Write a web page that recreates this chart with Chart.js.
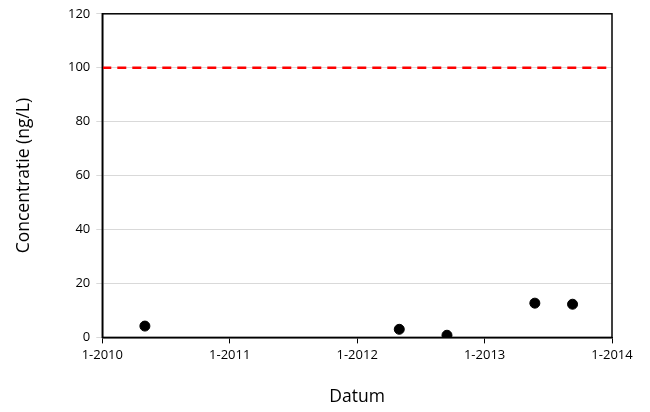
<!DOCTYPE html>
<html>
<head>
<meta charset="utf-8">
<script src="https://cdn.jsdelivr.net/npm/chart.js@4.4.0/dist/chart.umd.min.js"></script>
<style>
  html, body { margin: 0; padding: 0; background: #fff; }
  #wrap { width: 650px; height: 412px; }
</style>
</head>
<body>
<div id="wrap"><canvas id="chart"></canvas></div>
<script>
  // sample dates and concentrations (ng/L)
  const sampleDates = ["2010-05-03", "2012-05-01", "2012-09-15", "2013-05-25", "2013-09-10"];
  const concentrations = [4.2, 3.0, 0.8, 12.7, 12.3];

  // norm line
  const normValue = 100;
  const xRange = [2010, 2014];
  const yTicks = [0, 20, 40, 60, 80, 100, 120];

  const toYear = (s) => {
    const d = new Date(s + "T00:00:00Z");
    const y = d.getUTCFullYear();
    const start = Date.UTC(y, 0, 1);
    const end = Date.UTC(y + 1, 0, 1);
    return y + (d.getTime() - start) / (end - start);
  };

  const points = sampleDates.map((d, i) => ({ x: toYear(d), y: concentrations[i] }));
  const normLine = xRange.map((x) => ({ x, y: normValue }));

  // black box round the plot area
  const frame = {
    id: "frame",
    afterDraw(chart) {
      const { ctx, chartArea: a } = chart;
      ctx.save();
      ctx.strokeStyle = "#000";
      ctx.lineWidth = 1.5;
      ctx.strokeRect(a.left, a.top, a.right - a.left, a.bottom - a.top);
      ctx.restore();
    },
  };

  const font = "Open Sans, Liberation Sans, sans-serif";

  new Chart(document.getElementById("chart"), {
    type: "scatter",
    data: {
      datasets: [
        {
          label: "Norm",
          data: normLine,
          showLine: true,
          borderColor: "#ff0000",
          borderWidth: 2.5,
          borderDash: [9, 6],
          pointRadius: 0,
          order: 2,
        },
        {
          label: "Concentratie",
          data: points,
          backgroundColor: "#000",
          borderColor: "#000",
          pointRadius: 5,
          order: 1,
        },
      ],
    },
    options: {
      responsive: true,
      maintainAspectRatio: false,
      animation: false,
      layout: { padding: { top: 6, right: 38, left: 14, bottom: 4 } },
      plugins: { legend: { display: false }, tooltip: { enabled: false } },
      scales: {
        x: {
          type: "linear",
          min: xRange[0],
          max: xRange[1],
          ticks: {
            stepSize: 1,
            color: "#000",
            font: { family: font, size: 13 },
            padding: 4,
            callback: (v) => "1-" + v,
          },
          grid: { drawOnChartArea: false, drawTicks: true, tickLength: 6, color: "#000" },
          border: { color: "#000", width: 1.5 },
          title: {
            display: true,
            text: "Datum",
            color: "#000",
            font: { family: font, size: 17.5 },
            padding: { top: 20, bottom: 0 },
          },
        },
        y: {
          min: 0,
          max: 120,
          afterBuildTicks: (axis) => { axis.ticks = yTicks.map((v) => ({ value: v })); },
          ticks: {
            color: "#000",
            font: { family: font, size: 13 },
            padding: 6,
          },
          grid: { color: "#d9d9d9", tickLength: 6, lineWidth: 1 },
          border: { color: "#000", width: 1.5 },
          title: {
            display: true,
            text: "Concentratie (ng/L)",
            color: "#000",
            font: { family: font, size: 17.5 },
            padding: { top: 0, bottom: 27 },
          },
        },
      },
    },
    plugins: [frame],
  });
</script>
</body>
</html>
